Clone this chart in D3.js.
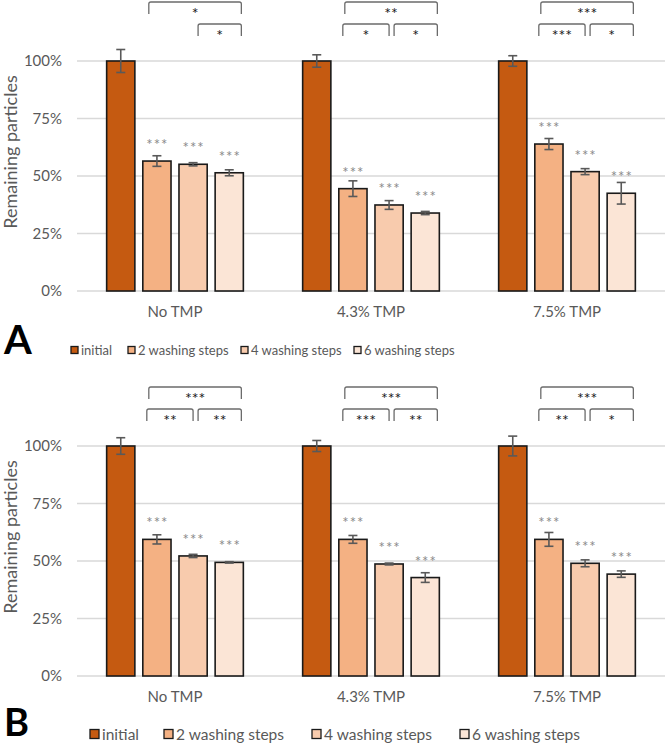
<!DOCTYPE html>
<html><head><meta charset="utf-8">
<script src="https://cdn.jsdelivr.net/npm/d3@7"></script>
<style>
body{margin:0;background:#fff;}
svg{display:block;}
text{font-family:Lato,"Open Sans",sans-serif;}
</style></head>
<body><svg id="c" width="666" height="744"></svg>
<script>
const categories = ["No TMP", "4.3% TMP", "7.5% TMP"];
const series = ["initial", "2 washing steps", "4 washing steps", "6 washing steps"];
const colors = ["#C55A11", "#F4B183", "#F8CBAD", "#FBE5D6"];
const yTicks = [0, 25, 50, 75, 100];

// Panel A values (% remaining) and errors
const valuesA = [
  [100, 56.5, 55.1, 51.4],
  [100, 44.5, 37.4, 33.9],
  [100, 63.9, 51.9, 42.5]
];
const errorsA = [
  [5.0, 2.3, 0.7, 1.3],
  [2.7, 3.4, 1.9, 0.7],
  [2.3, 2.4, 1.3, 4.7]
];
const barStarsA = [
  ["", "***", "***", "***"],
  ["", "***", "***", "***"],
  ["", "***", "***", "***"]
];
// brackets: [category index, from series, to series, label, level]
const bracketsA = [
  [0, 1, 3, "*", 0], [0, 2, 3, "*", 1],
  [1, 1, 3, "**", 0], [1, 1, 2, "*", 1], [1, 2, 3, "*", 1],
  [2, 1, 3, "***", 0], [2, 1, 2, "***", 1], [2, 2, 3, "*", 1]
];

// Panel B values
const valuesB = [
  [100, 59.4, 52.2, 49.4],
  [100, 59.4, 48.7, 42.8],
  [100, 59.4, 49.0, 44.3]
];
const errorsB = [
  [3.6, 2.0, 0.7, 0.3],
  [2.4, 1.7, 0.4, 2.1],
  [4.3, 3.0, 1.5, 1.4]
];
const barStarsB = [
  ["", "***", "***", "***"],
  ["", "***", "***", "***"],
  ["", "***", "***", "***"]
];
const bracketsB = [
  [0, 1, 3, "***", 0], [0, 1, 2, "**", 1], [0, 2, 3, "**", 1],
  [1, 1, 3, "***", 0], [1, 1, 2, "***", 1], [1, 2, 3, "**", 1],
  [2, 1, 3, "***", 0], [2, 1, 2, "**", 1], [2, 2, 3, "*", 1]
];

const svg = d3.select("#c");
const textColor = "#595959";

function drawPanel(cfg) {
  const g = svg.append("g");
  const x0 = d3.scaleBand().domain(categories).range([77, 665]).paddingInner(0).paddingOuter(0);
  const x1 = d3.scaleBand().domain(series).range([0, x0.bandwidth()]).paddingInner(0.22).paddingOuter(0.82);
  const y = d3.scaleLinear().domain([0, 100]).range([cfg.y0, cfg.y0 - 230]);

  // gridlines
  g.append("g").selectAll("line").data(yTicks).join("line")
    .attr("x1", 77).attr("x2", 665)
    .attr("y1", d => y(d)).attr("y2", d => y(d))
    .attr("stroke", "#d9d9d9").attr("stroke-width", 1.3);

  // y axis labels
  const yAxis = d3.axisLeft(y).tickValues(yTicks).tickFormat(d => d + "%").tickSize(0).tickPadding(0);
  const ya = g.append("g").attr("transform", "translate(62,0)").call(yAxis);
  ya.select(".domain").remove();
  ya.selectAll("text").attr("fill", textColor).attr("font-size", 15).attr("font-family", "Lato");

  // y title
  g.append("text").attr("transform", `translate(10,${cfg.y0 - 139}) rotate(-90)`)
    .attr("text-anchor", "middle").attr("dominant-baseline", "central")
    .attr("fill", textColor).attr("font-size", 18).text("Remaining particles");

  // category labels
  const xAxis = d3.axisBottom(x0).tickSize(0).tickPadding(0);
  const xa = g.append("g").attr("transform", `translate(0,${cfg.y0 + 15})`).call(xAxis);
  xa.select(".domain").remove();
  xa.selectAll("text").attr("fill", textColor).attr("font-size", 15).attr("font-family", "Lato");

  const flat = [];
  cfg.values.forEach((row, ci) => row.forEach((v, si) => flat.push({ci, si, v, e: cfg.errors[ci][si], s: cfg.stars[ci][si]})));
  const bx = d => x0(categories[d.ci]) + x1(series[d.si]);

  g.append("g").selectAll("rect").data(flat).join("rect")
    .attr("x", bx).attr("width", x1.bandwidth())
    .attr("y", d => y(d.v)).attr("height", d => y(0) - y(d.v))
    .attr("fill", d => colors[d.si]).attr("stroke", "#1a1a1a").attr("stroke-width", 1.6);

  // error bars
  const eb = g.append("g").attr("stroke", "#595959").attr("stroke-width", 1.6);
  flat.forEach(d => {
    const cx = bx(d) + x1.bandwidth() / 2;
    eb.append("line").attr("x1", cx).attr("x2", cx).attr("y1", y(d.v + d.e)).attr("y2", y(d.v - d.e));
    eb.append("line").attr("x1", cx - 4.5).attr("x2", cx + 4.5).attr("y1", y(d.v + d.e)).attr("y2", y(d.v + d.e));
    eb.append("line").attr("x1", cx - 4.5).attr("x2", cx + 4.5).attr("y1", y(d.v - d.e)).attr("y2", y(d.v - d.e));
  });

  // stars over bars
  g.append("g").selectAll("text").data(flat.filter(d => d.s)).join("text")
    .attr("x", d => bx(d) + x1.bandwidth() / 2 + 0.5).attr("y", d => y(d.v) - 11)
    .attr("text-anchor", "middle")
    .attr("font-family", "DejaVu Sans").attr("fill", "#8a8a8a").attr("font-size", 15)
    .attr("letter-spacing", 1).text(d => d.s);

  // brackets
  const bw = x1.bandwidth();
  const br = g.append("g");
  cfg.brackets.forEach(([ci, a, b, lab, lvl]) => {
    const gx = x0(categories[ci]);
    let left, right;
    if (lvl === 0) { left = gx + x1(series[a]) + 6; right = gx + x1(series[b]) + bw - 2; }
    else if (b - a === 1 && a === 1) { left = gx + x1(series[a]) + 4; right = gx + x1(series[b]) + bw / 2; }
    else { left = gx + x1(series[a]) + bw / 2 + 5; right = gx + x1(series[b]) + bw - 2; }
    const top = cfg.y0 - 289 + lvl * 22;
    const path = d3.path();
    path.moveTo(left, top + 12); path.lineTo(left, top + 2);
    path.quadraticCurveTo(left, top, left + 2, top);
    path.lineTo(right - 2, top);
    path.quadraticCurveTo(right, top, right, top + 2);
    path.lineTo(right, top + 12);
    br.append("path").attr("d", path.toString()).attr("fill", "none").attr("stroke", "#6b6b6b").attr("stroke-width", 1.3);
    br.append("text").attr("x", (left + right) / 2).attr("y", top + 17)
      .attr("text-anchor", "middle")
      .attr("font-family", "DejaVu Sans").attr("fill", "#1a1a1a").attr("font-size", 16)
      .text(lab);
  });

  // legend
  const lg = g.append("g").attr("transform", `translate(0,${cfg.y0 + cfg.legendDy})`);
  series.forEach((s, i) => {
    const lx = cfg.legendStarts[i];
    lg.append("rect").attr("x", lx).attr("y", -cfg.sq / 2).attr("width", cfg.sq).attr("height", cfg.sq)
      .attr("fill", colors[i]).attr("stroke", "#1a1a1a").attr("stroke-width", 1.3);
    lg.append("text").attr("x", lx + cfg.sq + 3).attr("y", 0).attr("dominant-baseline", "central")
      .attr("fill", textColor).attr("font-size", cfg.legendFont).text(s);
  });

  // panel letter
  g.append("text").attr("x", 4).attr("y", cfg.y0 + cfg.letterDy).attr("font-family", "Liberation Sans, Arial, sans-serif")
    .attr("font-weight", "bold").attr("font-size", cfg.letterSize).attr("fill", "#000").text(cfg.letter);
}

drawPanel({y0: 291, values: valuesA, errors: errorsA, stars: barStarsA, brackets: bracketsA,
  legendDy: 59, legendStarts: [71, 128, 241, 354], sq: 7, legendFont: 13, letter: "A", letterDy: 63, letterSize: 40});
drawPanel({y0: 676, values: valuesB, errors: errorsB, stars: barStarsB, brackets: bracketsB,
  legendDy: 58, legendStarts: [90, 164, 312, 460], sq: 9, legendFont: 15.5, letter: "B", letterDy: 60, letterSize: 38});
</script></body></html>
